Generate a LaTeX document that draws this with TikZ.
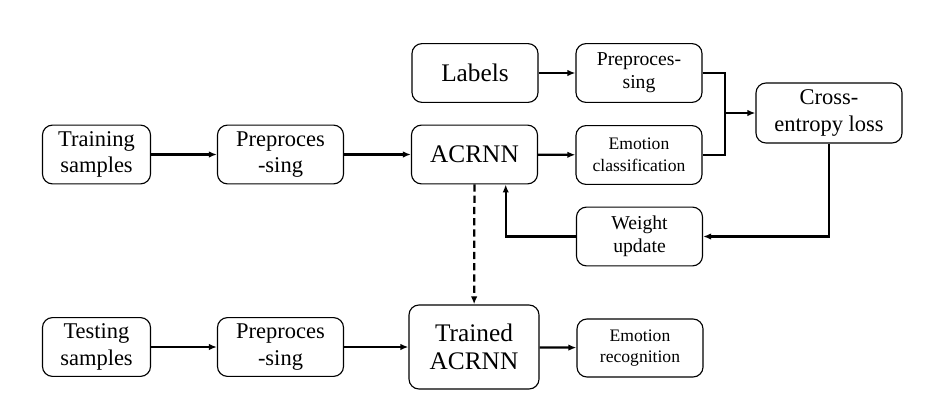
\documentclass[tikz,border=0pt]{standalone}
\usepackage{fontspec}
\setmainfont{Liberation Serif}[Ligatures=TeX]
\usetikzlibrary{arrows.meta}

\begin{document}
\begin{tikzpicture}[x=0.025cm, y=-0.025cm, line width=1.6pt, >={Latex[length=2mm,width=1.6mm]},
        main/.style = {draw, line width=0.8pt, rounded corners=0.25cm, align=center, inner sep=1pt, minimum width=3.15cm, minimum height=1.47cm, font=\rmfamily},
        big/.style = {font=\rmfamily\fontsize{18}{20}\selectfont},
        mid/.style = {font=\rmfamily\fontsize{16}{19}\selectfont},
        small/.style = {font=\rmfamily\fontsize{14}{16.5}\selectfont},
        tiny/.style = {font=\rmfamily\fontsize{12.5}{15.5}\selectfont}]
            \useasboundingbox (0,0) rectangle (925,414);
            % training branch
            \node[main, mid, minimum width=2.7cm] (1) at (96.5,154.5) {Training\\samples};
            \node[main, mid] (2) at (280.5,154.5) {Preproces\\-sing};
            \node[main, big] (3) at (474.5,154.5) {ACRNN};
            \node[main, big] (4) at (475,73) {Labels};
            \node[main, small] (5) at (639,73) {Preproces-\\sing};
            \node[main, tiny] (6) at (639,155) {Emotion\\classification};
            \node[main, mid, minimum width=3.65cm, minimum height=1.5cm] (7) at (829,113) {Cross-\\entropy loss};
            \node[main, small] (8) at (639.5,236.5) {Weight\\update};
            % testing branch
            \node[main, mid, minimum width=2.7cm] (9) at (96.5,347) {Testing\\samples};
            \node[main, mid] (11) at (280.5,347) {Preproces\\-sing};
            \node[main, big, minimum width=3.25cm, minimum height=2.1cm] (10) at (474,347) {Trained\\ACRNN};
            \node[main, tiny, minimum height=1.45cm] (12) at (640,348) {Emotion\\recognition};
            \coordinate (j) at (725,113);
            \draw[->] (1) -- (2);
            \draw[->] (2) -- (3);
            \draw[->] (3) -- (6);
            \draw[->] (4) -- (5);
            \draw (5.east) -| (j) |- (6.east);
            \draw[->] (j) -- (7.west);
            \draw[->] (7.south) |- (8.east);
            \draw[->] (8.west) -| ([xshift=0.78cm]3.south);
            \draw[->, dash pattern=on 5pt off 3pt] (3) -- (10);
            \draw[->] (9) -- (11);
            \draw[->] (11) -- (10);
            \draw[->] (10) -- (12);
        \end{tikzpicture}
\end{document}
